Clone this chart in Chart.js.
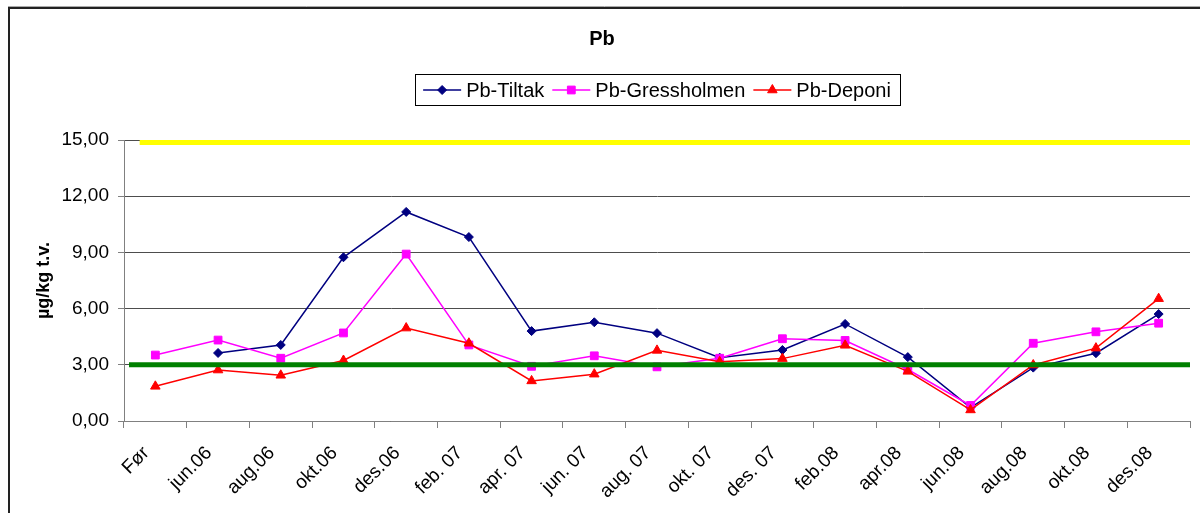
<!DOCTYPE html>
<html>
<head>
<meta charset="utf-8">
<script src="https://cdn.jsdelivr.net/npm/chart.js@4.4.0/dist/chart.umd.min.js"></script>
<style>
html,body{margin:0;padding:0;background:#fff;}
#wrap{width:1200px;height:513px;position:relative;}
</style>
</head>
<body>
<div id="wrap"><canvas id="c" width="1200" height="513"></canvas></div>
<script>
// ---- data ----
const categories = ['Før','jun.06','aug.06','okt.06','des.06','feb. 07','apr. 07','jun. 07','aug. 07','okt. 07','des. 07','feb.08','apr.08','jun.08','aug.08','okt.08','des.08'];
const tiltak      = [null,3.63,4.06,8.74,11.16,9.82,4.80,5.27,4.69,3.38,3.79,5.18,3.41,0.71,2.85,3.62,5.71];
const gressholmen = [3.52,4.32,3.35,4.70,8.91,4.06,2.92,3.48,2.89,3.35,4.39,4.30,2.75,0.83,4.15,4.76,5.22];
const deponi      = [1.85,2.72,2.44,3.23,4.96,4.15,2.14,2.50,3.77,3.16,3.33,4.04,2.65,0.59,2.99,3.89,6.53];
const yTicks      = [0,3,6,9,12,15];
const yTickLabels = ['0,00','3,00','6,00','9,00','12,00','15,00'];
const upperLimit  = 14.87;
const lowerLimit  = 3.0;
const upperSpan   = [0.25, 17];
const lowerSpan   = [0.08, 17];
const seriesNames = ['Pb-Tiltak','Pb-Gressholmen','Pb-Deponi'];

const FONT = "'Liberation Sans', Arial, sans-serif";
const colors = {tiltak:'#000080', gress:'#FF00FF', deponi:'#FF0000', yellow:'#FFFF00', green:'#008000'};

function drawMarker(ctx, style, x, y, color){
  ctx.save();
  ctx.fillStyle = color; ctx.strokeStyle = color; ctx.lineWidth = 1;
  ctx.beginPath();
  if (style === 'rectRot') {
    const r = 4.5;
    ctx.moveTo(x, y - r); ctx.lineTo(x + r, y); ctx.lineTo(x, y + r); ctx.lineTo(x - r, y);
  } else if (style === 'rect') {
    const s = 5.5 * Math.SQRT1_2;
    ctx.rect(x - s, y - s, 2 * s, 2 * s);
  } else {
    const r = 5.5;
    let a = 0;
    ctx.moveTo(x + Math.sin(a) * r, y - Math.cos(a) * r);
    a += 2 * Math.PI / 3;
    ctx.lineTo(x + Math.sin(a) * r, y - Math.cos(a) * r);
    a += 2 * Math.PI / 3;
    ctx.lineTo(x + Math.sin(a) * r, y - Math.cos(a) * r);
  }
  ctx.closePath(); ctx.fill(); ctx.stroke();
  ctx.restore();
}

const legendItems = [
  {name: seriesNames[0], color: colors.tiltak, style: 'rectRot'},
  {name: seriesNames[1], color: colors.gress, style: 'rect'},
  {name: seriesNames[2], color: colors.deponi, style: 'triangle'}
];

const customLegend = {
  id: 'customLegend',
  afterDraw(chart) {
    const ctx = chart.ctx;
    const ca = chart.chartArea;
    ctx.save();
    ctx.font = "20px " + FONT;
    const lineLen = 38, gapText = 5, gapItem = 8;
    let total = 0;
    legendItems.forEach((it, i) => {
      total += lineLen + gapText + ctx.measureText(it.name).width + (i < legendItems.length - 1 ? gapItem : 0);
    });
    const cx = (ca.left + ca.right) / 2;
    let x = cx - total / 2;
    const yc = 90;
    ctx.strokeStyle = '#000'; ctx.lineWidth = 1;
    ctx.strokeRect(Math.round(x - 8) + 0.5, 74.5, Math.round(total + 17), 31);
    legendItems.forEach(it => {
      ctx.strokeStyle = it.color; ctx.lineWidth = 1.5;
      ctx.beginPath(); ctx.moveTo(x, yc); ctx.lineTo(x + lineLen, yc); ctx.stroke();
      drawMarker(ctx, it.style, x + lineLen / 2, yc, it.color);
      ctx.fillStyle = '#000'; ctx.textBaseline = 'middle'; ctx.textAlign = 'left';
      ctx.fillText(it.name, x + lineLen + gapText, yc + 1);
      x += lineLen + gapText + ctx.measureText(it.name).width + gapItem;
    });
    ctx.restore();
  }
};

const frame = {
  id: 'frame',
  beforeDraw(chart) {
    const ctx = chart.ctx;
    ctx.save(); ctx.fillStyle = '#fff'; ctx.fillRect(0, 0, chart.width, chart.height); ctx.restore();
  },
  afterDraw(chart) {
    const ctx = chart.ctx;
    ctx.save();
    ctx.strokeStyle = '#aaa'; ctx.lineWidth = 1;
    ctx.beginPath(); ctx.moveTo(8, 6.5); ctx.lineTo(1300, 6.5); ctx.stroke();
    ctx.strokeStyle = '#222'; ctx.lineWidth = 2;
    ctx.strokeRect(9, 8, 1400, 1400);
    ctx.restore();
  }
};

const lineSeries = (label, data, color, style, radius) => ({
  type: 'line', label, data, xAxisID: 'x', yAxisID: 'y',
  borderColor: color, backgroundColor: color, borderWidth: 1.5,
  pointStyle: style, pointRadius: radius, pointHoverRadius: radius,
  pointBorderWidth: 1, pointBackgroundColor: color, pointBorderColor: color,
  tension: 0, fill: false, spanGaps: false
});

new Chart(document.getElementById('c'), {
  data: {
    labels: categories,
    datasets: [
      {type:'line', label:'upper', data: upperSpan.map(v => ({x: v, y: upperLimit})), xAxisID:'x2', yAxisID:'y',
       borderColor: colors.yellow, borderWidth: 5, pointRadius: 0, fill:false},
      {type:'line', label:'lower', data: lowerSpan.map(v => ({x: v, y: lowerLimit})), xAxisID:'x2', yAxisID:'y',
       borderColor: colors.green, borderWidth: 5, pointRadius: 0, fill:false},
      lineSeries(seriesNames[2], deponi, colors.deponi, 'triangle', 5.5),
      lineSeries(seriesNames[1], gressholmen, colors.gress, 'rect', 5.5),
      lineSeries(seriesNames[0], tiltak, colors.tiltak, 'rectRot', 4.5)
    ]
  },
  options: {
    responsive: false,
    animation: false,
    devicePixelRatio: 1,
    layout: {padding: {left: 14, right: 10, top: 0, bottom: 0}},
    plugins: {
      legend: {display: false},
      tooltip: {enabled: false},
      title: {
        display: true, text: 'Pb', color: '#000',
        font: {family: FONT, size: 20, weight: 'bold'},
        padding: {top: 27, bottom: 89}
      }
    },
    scales: {
      x: {
        type: 'category', position: 'bottom', offset: true,
        grid: {display: true, offset: true, drawOnChartArea: false, drawTicks: true, tickLength: 7, tickColor: '#808080'},
        border: {display: true, color: '#808080', width: 1},
        ticks: {autoSkip: false, maxRotation: 45, minRotation: 45, padding: 14, labelOffset: -9, color: '#000',
                font: {family: FONT, size: 19}},
        afterFit(s) { s.height = 92; }
      },
      x2: {type: 'linear', min: 0, max: 17, display: false},
      y: {
        type: 'linear', min: 0, max: 15,
        ticks: {stepSize: 3, padding: 9, color: '#000', font: {family: FONT, size: 19},
                callback: (v) => { const i = yTicks.indexOf(v); return i >= 0 ? yTickLabels[i] : ''; }},
        grid: {color: '#4d4d4d', lineWidth: 1, tickLength: 6, tickColor: '#808080', drawTicks: true},
        border: {display: true, color: '#808080', width: 1},
        title: {display: true, text: 'µg/kg t.v.', color: '#000', font: {family: FONT, size: 18, weight: 'bold'},
                padding: {top: 19, bottom: 0}},
        afterFit(s) { s.width = 110; }
      }
    }
  },
  plugins: [frame, customLegend]
});
</script>
</body>
</html>
